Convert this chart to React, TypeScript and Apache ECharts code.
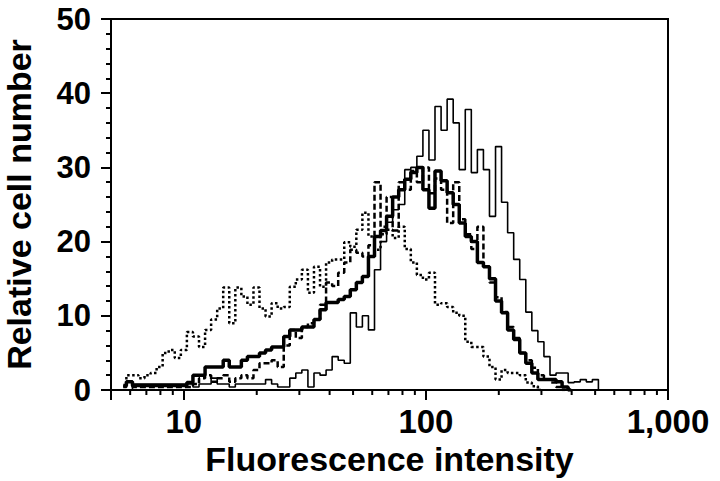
import React, { useEffect, useRef } from "react";
import * as echarts from "echarts";

// Histogram channel positions (fluorescence intensity, log spaced)
const channels: number[] = [
  5.62, 5.96, 6.31, 6.68, 7.08, 7.5, 7.94, 8.41, 8.91, 9.44,
  10.0, 10.59, 11.22, 11.89, 12.59, 13.34, 14.13, 14.96, 15.85, 16.79,
  17.78, 18.84, 19.95, 21.13, 22.39, 23.71, 25.12, 26.61, 28.18, 29.85,
  31.62, 33.5, 35.48, 37.58, 39.81, 42.17, 44.67, 47.32, 50.12, 53.09,
  56.23, 59.57, 63.1, 66.83, 70.79, 74.99, 79.43, 84.14, 89.13, 94.41,
  100, 105.9, 112.2, 118.9, 125.9, 133.4, 141.3, 149.6, 158.5, 167.9,
  177.8, 188.4, 199.5, 211.3, 223.9, 237.1, 251.2, 266.1, 281.8, 298.5,
  316.2, 335.0, 354.8, 375.8, 398.1, 421.7, 446.7, 473.2, 501.2, 530.9,
  562.3,
];

const dottedCounts: (number | null)[] = [
  0.5, 2.0, 2.0, 1.6, 2.0, 2.3, 3.1, 5.0, 5.4, 4.3,
  5.4, 7.8, 7.2, 5.8, 8.1, 9.5, 11.0, 13.8, 9.0, 13.8,
  12.6, 11.5, 13.8, 11.0, 9.9, 11.7, 11.0, 11.2, 13.9, 14.9,
  16.2, 13.1, 16.6, 13.9, 17.2, 17.6, 17.6, 19.9, 19.3, 21.6,
  23.9, 20.7, 18.9, 21.0, 21.6, 20.5, 22.0, 19.0, 17.2, 15.5,
  14.9, 15.8, 11.5, 11.7, 11.2, 10.4, 10.0, 6.5, 5.8, 5.8,
  4.5, 3.1, 1.4, 2.7, 2.3, 2.3, 2.0, 1.0, 0.5, 0,
  null, null, null, null, null, null, null, null, null, null,
  null,
];

const thickCounts: (number | null)[] = [
  0.6, 1.1, 0.6, 0.6, 0.6, 0.6, 0.6, 0.6, 0.6, 0.6,
  0.6, 1.0, 2.0, 2.0, 3.1, 3.1, 3.1, 4.0, 3.1, 3.1,
  4.0, 4.5, 4.5, 5.0, 5.4, 5.8, 5.8, 7.2, 8.1, 8.1,
  8.5, 8.5, 9.5, 10.8, 11.8, 11.8, 12.2, 12.6, 13.5, 14.5,
  15.3, 18.0, 20.7, 21.5, 23.4, 26.0, 27.0, 28.4, 29.3, 30.0,
  27.0, 24.5, 29.5, 28.2, 26.6, 25.0, 22.5, 20.7, 20.0, 17.2,
  16.6, 15.0, 12.0, 10.4, 8.1, 6.8, 5.0, 3.6, 2.3, 1.4,
  1.4, 1.4, 1.1, 0.4, 0, null, null, null, null, null,
  null,
];

const dashedCounts: (number | null)[] = [
  0.4, 1.1, 0.4, 0.4, 0.4, 0.4, 0.4, 0.4, 0.4, 0.4,
  0.4, 0.4, 0.8, 1.6, 2.0, 1.1, 1.6, 2.0, 1.1, 1.6,
  2.0, 1.6, 2.7, 3.6, 3.6, 4.0, 3.1, 6.0, 8.1, 7.0,
  8.5, 9.0, 9.5, 11.5, 14.5, 14.0, 15.8, 17.2, 18.9, 18.5,
  18.0, 19.5, 28.0, 22.0, 26.0, 21.5, 28.0, 27.0, 29.5, 28.0,
  30.0, 26.5, 28.5, 27.0, 22.5, 28.0, 23.0, 21.0, 19.0, 22.0,
  16.6, 14.5, 12.5, 10.5, 8.5, 7.0, 5.0, 4.0, 3.0, 2.0,
  1.4, 1.0, 0.4, 0, null, null, null, null, null, null,
  null,
];

const thinCounts: (number | null)[] = [
  null, 0, 0.8, 0.8, 0.8, 0.8, 0.8, 0.8, 0.8, 0.8,
  0.8, 0.8, 0.4, 0.8, 0.8, 1.6, 0.8, 0.8, 0.4, 0.8,
  0.8, 0.8, 0.8, 0.8, 1.4, 0.8, 0.4, 0.4, 1.6, 2.3,
  2.7, 0.4, 2.3, 2.0, 2.7, 4.5, 4.0, 3.6, 10.4, 8.5,
  10.0, 8.1, 16.2, 20.0, 22.6, 24.3, 25.0, 29.7, 30.0, 31.5,
  35.0, 31.0, 38.2, 35.0, 39.2, 36.0, 29.7, 37.8, 29.3, 32.4,
  29.7, 23.4, 32.8, 25.3, 21.2, 17.6, 14.9, 10.5, 8.0, 6.5,
  4.5, 2.0, 2.3, 2.3, 1.0, 1.1, 1.4, 1.1, 1.4, 0,
  null,
];

const majorTickLabels: Record<number, string> = { 10: "10", 100: "100", 1000: "1,000" };
const minorTickValues: number[] = [
  6, 7, 8, 9, 20, 30, 40, 50, 60, 70, 80, 90, 200, 300, 400, 500, 600, 700, 800, 900,
];

const FONT = "'Liberation Sans', Arial, Helvetica, sans-serif";

function pairs(values: (number | null)[]): [number, number][] {
  const out: [number, number][] = [];
  values.forEach((v, i) => {
    if (v !== null) out.push([channels[i], v]);
  });
  return out;
}

export default function App() {
  const ref = useRef<HTMLDivElement>(null);
  useEffect(() => {
    if (!ref.current) return;
    const chart = echarts.init(ref.current, undefined, { renderer: "svg" });
    const lineBase = {
      type: "line" as const,
      step: "middle" as const,
      symbol: "none",
      silent: true,
    };
    chart.setOption({
      animation: false,
      backgroundColor: "#ffffff",
      grid: {
        left: 111,
        top: 19,
        right: 52,
        bottom: 91,
        containLabel: false,
        outerBoundsMode: "none",
        show: true,
        borderColor: "#000",
        borderWidth: 2,
        backgroundColor: "transparent",
      },
      xAxis: {
        type: "log",
        logBase: 10,
        min: 5,
        max: 1000,
        name: "Fluorescence intensity",
        nameLocation: "middle",
        nameGap: 52,
        nameMoveOverlap: false,
        nameTextStyle: {
          fontFamily: FONT,
          fontWeight: "bold",
          fontSize: 34,
          color: "#000",
          verticalAlign: "top",
        },
        axisLine: { lineStyle: { color: "#000", width: 2 } },
        axisTick: { show: true, length: 10, lineStyle: { color: "#000", width: 2 } },
        splitLine: { show: false },
        axisLabel: {
          margin: 15,
          fontFamily: FONT,
          fontWeight: "bold",
          fontSize: 33,
          color: "#000",
          showMinLabel: true,
          showMaxLabel: true,
          hideOverlap: false,
          formatter: (v: number) => majorTickLabels[Math.round(v)] ?? "",
        },
      },
      yAxis: {
        type: "value",
        min: 0,
        max: 50,
        interval: 10,
        name: "Relative cell number",
        nameLocation: "middle",
        nameGap: 75,
        nameMoveOverlap: false,
        nameTextStyle: { fontFamily: FONT, fontWeight: "bold", fontSize: 34, color: "#000" },
        axisLine: { show: true, lineStyle: { color: "#000", width: 2 } },
        axisTick: { show: true, length: 10, lineStyle: { color: "#000", width: 2 } },
        minorTick: { show: true, splitNumber: 5, length: 5, lineStyle: { color: "#000", width: 2 } },
        splitLine: { show: false },
        axisLabel: {
          margin: 20,
          fontFamily: FONT,
          fontWeight: "bold",
          fontSize: 31,
          color: "#000",
        },
      },
      series: [
        {
          type: "custom",
          coordinateSystem: "cartesian2d",
          silent: true,
          clip: false,
          data: minorTickValues.map((v) => [v, 0]),
          renderItem: (_params: any, api: any) => {
            const p = api.coord([api.value(0), 0]);
            return {
              type: "line",
              shape: { x1: p[0], y1: p[1], x2: p[0], y2: p[1] + 5 },
              style: { stroke: "#000", lineWidth: 2 },
            };
          },
        },
        {
          ...lineBase,
          name: "dotted",
          data: pairs(dottedCounts),
          lineStyle: { color: "#000", width: 2.5, type: [2.5, 2.5] },
        },
        {
          ...lineBase,
          name: "thin",
          data: pairs(thinCounts),
          lineStyle: { color: "#000", width: 1.6, type: "solid" },
        },
        {
          ...lineBase,
          name: "dashed",
          data: pairs(dashedCounts),
          lineStyle: { color: "#000", width: 2.5, type: [6, 3] },
        },
        {
          ...lineBase,
          name: "thick",
          data: pairs(thickCounts),
          lineStyle: { color: "#000", width: 3.5, type: "solid" },
        },
      ],
    });
    return () => chart.dispose();
  }, []);
  return <div ref={ref} style={{ width: 720, height: 481, position: "absolute", left: 0, top: 0 }} />;
}
